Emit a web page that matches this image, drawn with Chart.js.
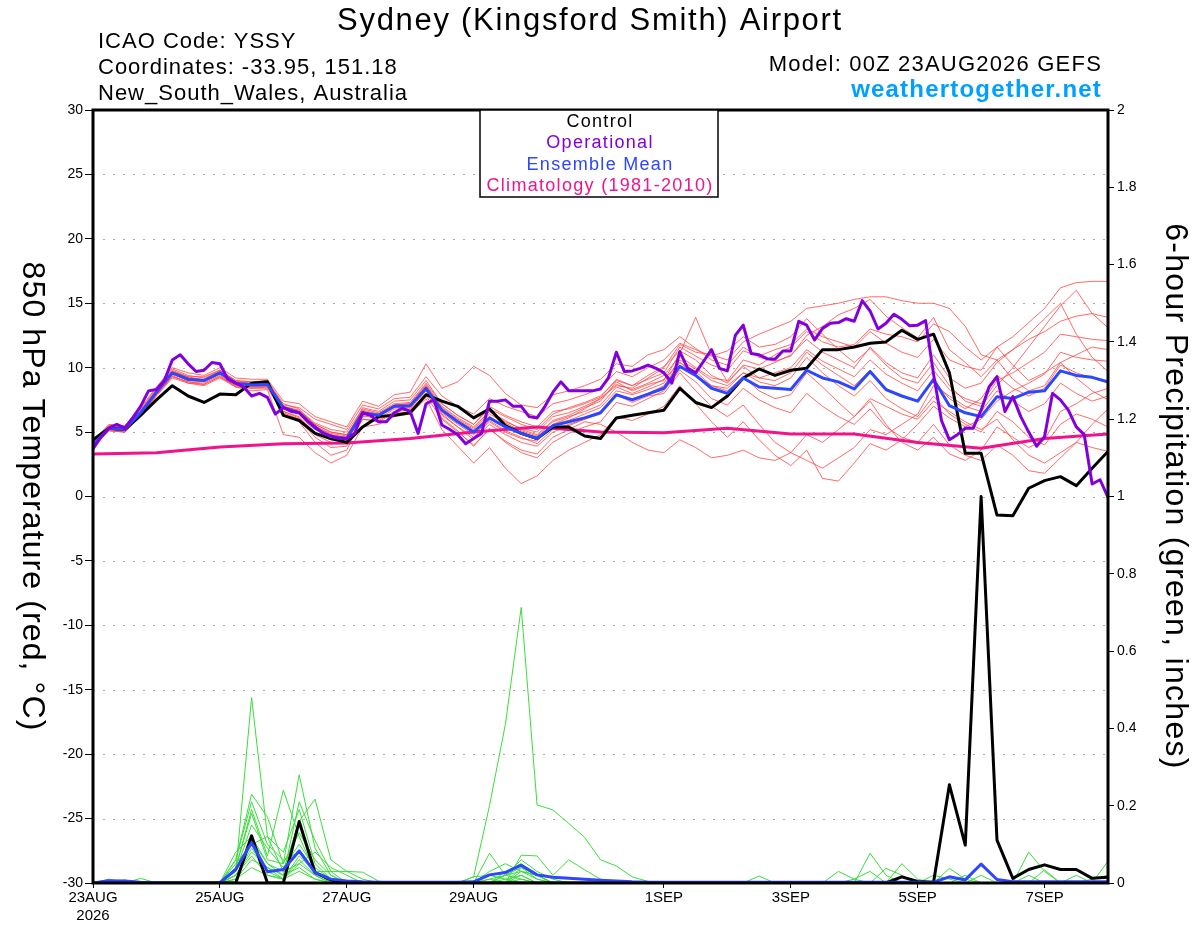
<!DOCTYPE html>
<html lang="en">
<head>
<meta charset="UTF-8">
<title>Sydney (Kingsford Smith) Airport - GEFS</title>
<script src="https://cdn.jsdelivr.net/npm/chart.js"></script>
<style>
  body { margin: 0; background: #fff; }
  #wrap { width: 1200px; height: 927px; }
</style>
</head>
<body>
<div id="wrap"><canvas id="gefsChart" width="1200" height="927"></canvas></div>
<script>
// forecast hours after 00Z 23AUG2026
const hours6 = Array.from({ length: 65 }, (_, i) => i * 6);
const hours3 = Array.from({ length: 129 }, (_, i) => i * 3);
const climHours = [0, 24, 48, 72, 96, 120, 144, 168, 192, 216, 240, 264, 288, 312, 336, 360, 384];

const tickHours = [0, 48, 96, 144, 216, 264, 312, 360];
const tickLabels = [['23AUG', '2026'], '25AUG', '27AUG', '29AUG', '1SEP', '3SEP', '5SEP', '7SEP'];

// 850 hPa temperature, deg C (6-hourly, control and ensemble mean)
const controlTemp = [
  4.4, 5.3, 5.2, 6.3,   7.5, 8.6, 7.8, 7.3,   7.95, 7.9, 8.8, 8.9,   6.3, 5.9, 4.9, 4.5,
  4.2, 5.4, 6.2, 6.3,   6.5, 7.9, 7.4, 7.0,   6.1, 6.8, 5.5, 4.9,    4.5, 5.4, 5.4, 4.7,
  4.5, 6.1, 6.3, 6.5,   6.7, 8.4, 7.3, 6.9,   7.8, 9.2, 9.9, 9.4,    9.8, 9.95, 11.4, 11.4,
  11.6, 11.9, 12.0, 12.9, 12.2, 12.6, 9.6, 3.35, 3.35, -1.44, -1.5, 0.64, 1.23, 1.54, 0.84, 2.2,
  3.5
];
const meanTemp = [
  4.0, 5.3, 5.2, 6.5,   8.1, 9.6, 9.1, 9.0,   9.6, 8.8, 8.65, 8.7,   6.9, 6.5, 5.3, 4.65,
  4.5, 6.5, 6.3, 7.0,   7.05, 8.4, 6.7, 5.8,  5.0, 6.1, 5.4, 4.9,    4.5, 5.5, 5.8, 6.1,
  6.5, 7.9, 7.5, 7.95,  8.4, 10.1, 9.4, 8.4,  8.0, 9.2, 8.5, 8.4,    8.3, 9.8, 9.2, 8.9,
  8.35, 9.7, 8.3, 7.8,  7.4, 9.1, 7.05, 6.5,  6.2, 7.75, 7.6, 8.1,   8.2, 9.75, 9.4, 9.25,
  8.9
];
// operational run, 3-hourly
const operTemp = [
  3.7, 4.6, 5.3, 5.6, 5.3, 6.1, 7.0, 8.2,
  8.3, 9.0, 10.6, 11.0, 10.3, 9.7, 9.8, 10.4,
  10.3, 9.1, 8.8, 8.5, 7.8, 8.0, 7.7, 6.4,
  6.9, 6.6, 6.5, 5.9, 5.4, 4.9, 4.7, 4.5,
  4.5, 4.9, 6.5, 6.3, 5.8, 5.8, 6.5, 6.85,
  6.6, 4.9, 7.2, 7.5, 5.55, 5.2, 4.8, 4.1,
  4.5, 4.9, 7.4, 7.4, 7.5, 7.0, 7.0, 6.2,
  6.1, 7.0, 8.1, 8.9, 8.2, 8.2, 8.2, 8.2,
  8.35, 9.2, 11.2, 9.7, 9.75, 9.95, 10.2, 9.95,
  9.6, 8.8, 11.25, 9.95, 9.6, 10.5, 11.4, 9.95,
  9.75, 12.5, 13.3, 11.1, 11.0, 10.7, 10.65, 11.3,
  11.3, 13.6, 13.3, 12.15, 13.05, 13.45, 13.5, 13.8,
  13.6, 15.2, 14.4, 13.0, 13.45, 14.15, 13.75, 13.25,
  13.3, 13.65, 9.5, 5.9, 4.4, 4.8, 5.3, 5.3,
  6.7, 8.5, 9.3, 6.6, 7.75, 6.2, 5.0, 3.9,
  4.65, 8.0, 7.5, 6.7, 5.4, 4.8, 0.97, 1.3,
  -0.06
];
const climTemp = [3.3, 3.4, 3.85, 4.1, 4.15, 4.5, 5.0, 5.4, 5.0, 4.95, 5.3, 4.85, 4.85, 4.2, 3.75, 4.5, 4.85];

// ensemble members, 6-hourly
const memberT1 = [
  4.1, 5.5, 5.4, 6.8,  8.4, 9.9, 9.4, 9.2,  9.8, 9.0, 8.9, 9.0,  7.2, 6.8, 5.5, 4.8,
  4.6, 6.9, 6.6, 7.4,  7.5, 9.0, 7.2, 6.3,  5.6, 6.8, 6.2, 5.6,  5.2, 6.4, 6.9, 7.3,
  7.8, 9.0, 8.6, 9.1,  9.6, 11.6, 10.9, 10.2,  9.8, 11.3, 10.9, 11.4,  11.8, 13.0, 12.4, 12.0,
  11.6, 12.8, 11.9, 11.2,  10.8, 12.2, 10.6, 10.1,  9.8, 11.6, 12.4, 13.5,  14.6, 16.2, 16.6, 16.7,
  16.7
];
const memberT2 = [
  3.9, 5.2, 5.0, 6.3,  7.9, 9.4, 8.8, 8.7,  9.3, 8.6, 8.4, 8.5,  6.6, 6.1, 4.8, 4.2,
  4.1, 6.0, 5.9, 6.6,  6.7, 8.0, 6.3, 5.4,  4.6, 5.8, 5.0, 4.5,  4.3, 5.6, 6.1, 6.8,
  7.6, 8.6, 8.4, 9.2,  10.0, 11.8, 11.2, 11.0,  10.6, 12.0, 12.6, 13.1,  13.6, 14.6, 14.8, 15.0,
  15.3, 15.5, 15.5, 15.2,  15.0, 15.0, 14.6, 13.2,  11.0, 10.6, 11.4, 12.2,  12.8, 13.6, 14.0, 14.2,
  13.9
];
const memberT3 = [
  4.2, 5.4, 5.3, 6.6,  8.2, 9.7, 9.3, 9.0,  9.5, 8.7, 8.5, 8.6,  6.4, 5.8, 4.2, 3.2,
  3.6, 6.2, 6.4, 7.1,  7.2, 8.3, 6.1, 5.1,  3.9, 5.3, 4.2, 3.4,  3.0, 4.2, 4.9, 5.4,
  5.8, 7.3, 7.0, 7.6,  8.2, 9.8, 8.9, 7.6,  7.1, 8.4, 7.5, 6.9,  6.5, 8.0, 7.0, 6.2,
  5.6, 6.8, 5.4, 4.6,  4.2, 5.6, 4.0, 3.2,  2.8, 4.0, 3.2, 2.0,  1.8, 3.0, 4.2, 5.6,
  6.8
];
const memberT4 = [
  3.8, 5.1, 5.0, 6.2,  7.8, 9.2, 8.8, 8.6,  9.2, 8.5, 8.2, 8.3,  4.8, 4.6, 3.4, 2.6,
  3.2, 5.4, 5.6, 6.2,  6.4, 7.6, 5.2, 3.9,  2.6, 3.8, 2.2, 1.0,  1.6, 2.8, 3.6, 4.2,
  4.8, 6.2, 5.9, 6.4,  7.0, 8.6, 7.2, 5.8,  4.6, 5.8, 4.4, 3.2,  2.4, 3.6, 1.4, 1.2,
  2.6, 4.1, 3.6, 4.4,  5.6, 7.0, 6.1, 5.4,  6.0, 7.4, 8.2, 8.8,  9.5, 11.2, 10.8, 10.6,
  10.5
];
const memberT5 = [
  4.0, 5.4, 5.2, 6.5,  8.0, 9.5, 9.0, 9.1,  9.7, 8.9, 8.8, 8.8,  7.0, 6.6, 5.6, 5.0,
  4.8, 6.6, 6.2, 7.0,  7.1, 8.6, 6.9, 6.0,  5.3, 6.6, 5.9, 5.2,  4.8, 5.9, 6.3, 6.9,
  7.4, 8.9, 8.2, 8.7,  9.0, 11.1, 13.9, 11.0,  8.9, 10.1, 9.2, 9.6,  10.0, 11.4, 10.5, 9.9,
  9.3, 10.6, 9.5, 8.8,  8.2, 9.8, 8.3, 7.6,  7.2, 9.0, 9.6, 10.4,  11.2, 12.6, 12.4, 12.2,
  12.1
];
const memberT6 = [
  4.3, 5.6, 5.5, 6.9,  8.5, 10.0, 9.6, 9.4,  10.0, 9.2, 9.1, 9.1,  7.4, 7.2, 6.2, 5.8,
  5.4, 7.4, 7.0, 7.9,  8.1, 10.3, 8.4, 8.9,  10.1, 9.4, 8.0, 7.1,  6.9, 7.9, 8.2, 8.6,
  9.1, 10.3, 10.1, 11.0,  11.4, 12.4, 11.5, 10.6,  10.2, 11.6, 10.8, 10.5,  10.9, 12.5, 13.2, 14.1,
  14.6, 15.3, 14.0, 13.1,  12.3, 13.9, 11.4, 10.4,  9.3, 10.6, 9.1, 8.2,  8.6, 10.4, 11.0, 11.6,
  11.4
];
const memberT7 = [
  4.0, 5.2, 5.1, 6.4,  8.0, 9.5, 9.0, 8.9,  9.5, 8.7, 8.6, 8.6,  6.8, 6.4, 5.0, 4.4,
  4.3, 6.3, 6.0, 6.8,  6.8, 8.2, 6.5, 5.6,  4.8, 5.9, 5.1, 4.6,  4.1, 5.2, 5.6, 6.0,
  6.4, 7.9, 7.3, 7.8,  8.0, 9.6, 8.2, 7.0,  6.2, 7.1, 5.6, 4.2,  3.4, 2.8, 2.2, 3.0,
  3.8, 5.2, 4.8, 5.6,  6.4, 8.6, 7.8, 7.0,  6.6, 8.2, 7.4, 6.6,  7.2, 8.8, 8.0, 7.4,
  7.8
];
const memberT8 = [
  4.1, 5.3, 5.3, 6.6,  8.2, 9.6, 9.2, 9.0,  9.6, 8.8, 8.7, 8.7,  7.0, 6.7, 5.7, 5.2,
  5.0, 6.8, 6.5, 7.2,  7.3, 8.8, 7.2, 6.3,  5.6, 7.0, 6.3, 5.8,  5.4, 6.6, 6.8, 7.2,
  7.7, 9.1, 8.6, 9.4,  10.1, 11.3, 10.6, 9.4,  8.8, 10.2, 9.9, 10.4,  11.0, 12.2, 11.2, 10.6,
  10.0, 11.6, 10.4, 9.6,  9.2, 11.0, 9.2, 8.4,  8.8, 10.4, 11.4, 12.6,  13.8, 15.0, 12.6, 10.8,
  9.7
];
const memberT9 = [
  3.9, 5.2, 5.1, 6.3,  7.9, 9.3, 8.9, 8.8,  9.4, 8.6, 8.5, 8.5,  6.6, 6.2, 4.9, 4.4,
  4.4, 6.4, 6.2, 6.9,  6.9, 8.2, 6.4, 5.4,  4.4, 5.6, 4.8, 4.2,  3.9, 5.0, 5.5, 6.0,
  6.6, 7.9, 7.6, 8.0,  8.6, 10.4, 9.7, 8.6,  8.2, 9.3, 8.2, 7.6,  7.9, 9.6, 8.5, 7.3,
  6.2, 7.4, 5.6, 4.2,  3.6, 4.6, 3.3, 2.8,  3.6, 5.4, 4.6, 3.8,  4.4, 6.6, 7.2, 8.0,
  8.4
];
const memberT10 = [
  4.2, 5.5, 5.4, 6.7,  8.3, 9.8, 9.3, 9.3,  9.8, 9.0, 8.9, 8.9,  7.1, 6.9, 6.0, 5.6,
  5.2, 7.1, 6.8, 7.6,  7.7, 9.3, 7.8, 7.0,  6.4, 7.6, 7.0, 6.6,  6.2, 7.2, 7.5, 7.9,
  8.4, 9.7, 9.3, 10.0,  10.6, 11.9, 11.4, 10.9,  11.3, 12.4, 11.6, 11.8,  12.4, 13.8, 12.6, 11.4,
  10.4, 11.5, 10.2, 9.2,  8.8, 10.4, 8.6, 7.4,  7.0, 8.6, 10.0, 11.6,  13.2, 14.8, 16.0, 14.2,
  13.1
];
const memberT11 = [
  4.0, 5.3, 5.2, 6.5,  8.1, 9.6, 9.1, 9.0,  9.6, 8.8, 8.6, 8.7,  6.9, 6.5, 5.3, 4.7,
  4.6, 6.5, 6.3, 7.0,  7.0, 8.5, 6.7, 5.8,  5.0, 6.2, 5.4, 4.9,  4.4, 5.6, 5.9, 6.4,
  6.9, 8.2, 7.9, 8.3,  8.8, 10.6, 9.9, 9.0,  8.6, 9.6, 8.9, 8.6,  9.2, 10.8, 9.6, 8.6,
  7.8, 9.0, 7.6, 6.8,  6.2, 7.8, 6.4, 5.6,  5.0, 6.6, 5.8, 4.6,  4.0, 5.6, 6.4, 6.0,
  5.4
];
const memberT12 = [
  4.1, 5.4, 5.3, 6.6,  8.1, 9.7, 9.2, 9.1,  9.7, 8.9, 8.8, 8.8,  7.0, 6.6, 5.4, 4.9,
  4.7, 6.7, 6.4, 7.1,  7.2, 8.7, 7.0, 6.1,  5.4, 6.6, 5.8, 5.3,  5.0, 6.2, 6.5, 7.0,
  7.6, 8.7, 8.3, 8.8,  9.4, 10.9, 10.0, 9.2,  9.0, 10.6, 10.2, 11.0,  11.6, 12.8, 12.0, 11.6,
  11.8, 13.0, 12.6, 12.4,  12.0, 13.4, 12.8, 11.6,  10.6, 11.6, 10.2, 9.0,  9.6, 10.4, 9.2, 8.2,
  7.5
];
const memberT13 = [
  3.9, 5.1, 5.0, 6.3,  7.9, 9.3, 8.9, 8.7,  9.3, 8.5, 8.4, 8.4,  6.5, 6.0, 4.6, 3.8,
  3.9, 6.0, 5.8, 6.5,  6.5, 7.8, 6.0, 5.0,  4.0, 5.2, 4.3, 3.6,  3.3, 4.6, 5.2, 5.8,
  5.6, 5.0, 4.2, 3.6,  3.4, 4.4, 3.8, 3.0,  3.2, 3.6, 3.0, 2.8,  3.4, 4.8, 4.2, 5.2,
  6.2, 7.6, 7.0, 6.4,  6.0, 7.4, 6.6, 5.8,  5.2, 6.0, 4.4, 3.2,  2.6, 3.4, 4.2, 3.8,
  3.5
];
const memberT14 = [
  4.0, 5.3, 5.2, 6.5,  8.0, 9.5, 9.1, 9.0,  9.6, 8.8, 8.7, 8.7,  6.9, 6.6, 5.6, 5.0,
  4.8, 6.6, 6.3, 7.1,  7.1, 8.5, 6.8, 5.9,  5.2, 6.4, 5.7, 5.1,  4.7, 5.8, 6.2, 6.6,
  7.1, 8.5, 8.0, 8.5,  9.1, 10.4, 9.4, 8.6,  8.4, 9.6, 9.2, 9.0,  9.6, 11.2, 10.2, 9.4,
  8.6, 9.8, 8.4, 7.8,  7.4, 9.0, 7.6, 6.8,  7.6, 9.4, 8.4, 7.8,  8.4, 10.2, 9.6, 9.2,
  8.8
];
const memberTemps = [memberT1, memberT2, memberT3, memberT4, memberT5, memberT6, memberT7,
  memberT8, memberT9, memberT10, memberT11, memberT12, memberT13, memberT14];

// 6-hour precipitation, inches
const controlPrecip = [
  0, 0, 0, 0,  0, 0, 0, 0,  0, 0, 0.122, 0,  0, 0.159, 0.027, 0.008,
  0, 0, 0, 0,  0, 0, 0, 0,  0, 0, 0, 0,  0, 0, 0, 0,
  0, 0, 0, 0,  0, 0, 0, 0,  0, 0, 0, 0,  0, 0, 0, 0,
  0, 0, 0, 0.016,  0.004, 0.002, 0.254, 0.098,  1.0, 0.111, 0.012, 0.035,  0.047, 0.035, 0.035, 0.012,
  0.015
];
const meanPrecip = [
  0, 0.006, 0.005, 0.002,  0.001, 0.001, 0.001, 0.001,  0.001, 0.035, 0.104, 0.029,  0.035, 0.083, 0.027, 0.01,
  0.005, 0.003, 0.002, 0.002,  0.002, 0.002, 0.002, 0.002,  0.003, 0.021, 0.027, 0.046,  0.021, 0.015, 0.012, 0.0095,
  0.007, 0.005, 0.003, 0.002,  0.002, 0.002, 0.002, 0.002,  0.002, 0.002, 0.002, 0.002,  0.002, 0.002, 0.002, 0.002,
  0.002, 0.002, 0.002, 0.002,  0.002, 0.002, 0.016, 0.008,  0.049, 0.009, 0.003, 0.003,  0.003, 0.003, 0.003, 0.003,
  0.003
];
// members: [hour, inches], every other hour is dry
const memberP1 = [[6, 0.01], [54, 0.03], [60, 0.48], [66, 0.12], [72, 0.03], [78, 0.05], [84, 0.02], [156, 0.02], [162, 0.03], [168, 0.01], [306, 0.05], [312, 0.01]];
const memberP2 = [[54, 0.06], [60, 0.23], [66, 0.17], [72, 0.05], [78, 0.28], [84, 0.09], [90, 0.02], [150, 0.01], [162, 0.04], [168, 0.02], [354, 0.08], [360, 0.03]];
const memberP3 = [[54, 0.02], [60, 0.08], [66, 0.04], [72, 0.01], [78, 0.06], [84, 0.02], [144, 0.016], [150, 0.2], [156, 0.41], [162, 0.713], [168, 0.202], [174, 0.189], [180, 0.154], [186, 0.118], [192, 0.06], [198, 0.044], [204, 0.016], [210, 0.004]];
const memberP4 = [[54, 0.04], [60, 0.19], [66, 0.07], [72, 0.24], [78, 0.12], [84, 0.03], [150, 0.077], [156, 0.02], [162, 0.01], [294, 0.077], [300, 0.02]];
const memberP5 = [[54, 0.08], [60, 0.12], [66, 0.05], [72, 0.03], [78, 0.16], [84, 0.217], [90, 0.06], [96, 0.03], [102, 0.028], [108, 0.005], [162, 0.072], [168, 0.07], [174, 0.02], [180, 0.06], [186, 0.034], [192, 0.01]];
const memberP6 = [[54, 0.03], [60, 0.15], [66, 0.09], [72, 0.04], [78, 0.1], [84, 0.04], [90, 0.01], [156, 0.03], [162, 0.05], [168, 0.02], [324, 0.038], [330, 0.01]];
const memberP7 = [[12, 0.008], [54, 0.02], [60, 0.09], [66, 0.03], [72, 0.01], [78, 0.07], [84, 0.03], [90, 0.03], [96, 0.03], [102, 0.01], [150, 0.01], [156, 0.02], [162, 0.04], [168, 0.01], [282, 0.03], [288, 0.01]];
const memberP8 = [[54, 0.05], [60, 0.1], [66, 0.12], [72, 0.08], [78, 0.19], [84, 0.05], [90, 0.01], [144, 0.016], [150, 0.02], [156, 0.01], [252, 0.018], [384, 0.057]];
const memberP9 = [[54, 0.01], [60, 0.06], [66, 0.04], [72, 0.02], [78, 0.04], [84, 0.01], [162, 0.03], [168, 0.02], [300, 0.038], [306, 0.02], [354, 0.02]];
const memberP10 = [[18, 0.012], [54, 0.04], [60, 0.18], [66, 0.06], [72, 0.05], [78, 0.13], [84, 0.06], [90, 0.02], [156, 0.01], [162, 0.02], [336, 0.02], [360, 0.034]];
const memberP11 = [[54, 0.02], [60, 0.07], [66, 0.02], [72, 0.01], [78, 0.05], [84, 0.08], [90, 0.04], [96, 0.02], [162, 0.02], [288, 0.01], [294, 0.03]];
const memberP12 = [[54, 0.06], [60, 0.21], [66, 0.1], [72, 0.06], [78, 0.08], [84, 0.03], [150, 0.03], [156, 0.05], [162, 0.03], [168, 0.02], [330, 0.02]];
const memberP13 = [[54, 0.03], [60, 0.11], [66, 0.05], [72, 0.02], [78, 0.21], [84, 0.11], [90, 0.03], [162, 0.01], [318, 0.02], [324, 0.01], [372, 0.02]];
const memberP14 = [[54, 0.01], [60, 0.04], [66, 0.02], [72, 0.01], [78, 0.03], [84, 0.01], [156, 0.02], [162, 0.06], [168, 0.03], [174, 0.01], [378, 0.01], [384, 0.02]];
const memberPrecips = [memberP1, memberP2, memberP3, memberP4, memberP5, memberP6, memberP7,
  memberP8, memberP9, memberP10, memberP11, memberP12, memberP13, memberP14];

const FONT = "'Liberation Sans', Arial, Helvetica, sans-serif";
const OPER_COLOR = '#8200dc';
const MEAN_COLOR = '#2d46ff';
const CLIM_COLOR = '#f0148c';

function toPoints(xs, ys) {
  return xs.map((x, i) => ({ x: x, y: ys[i] }));
}
function sparseToPoints(pairs) {
  return hours6.map(h => {
    const hit = pairs.find(p => p[0] === h);
    return { x: h, y: hit ? hit[1] : 0 };
  });
}
function line(data, color, width, axis, order) {
  return {
    data: data,
    borderColor: color,
    borderWidth: width,
    yAxisID: axis,
    order: order,
    pointRadius: 0,
    tension: 0,
    fill: false,
    borderJoinStyle: 'round'
  };
}

const datasets = [];
memberPrecips.forEach(p => datasets.push(line(sparseToPoints(p), 'rgb(60,220,60)', 1, 'y2', 7)));
memberTemps.forEach(t => datasets.push(line(toPoints(hours6, t), 'rgba(255,70,70,0.8)', 1, 'y', 6)));
datasets.push(line(toPoints(climHours, climTemp), CLIM_COLOR, 3, 'y', 5));
datasets.push(line(toPoints(hours6, controlPrecip), '#000', 3, 'y2', 4));
datasets.push(line(toPoints(hours6, controlTemp), '#000', 3, 'y', 3));
datasets.push(line(toPoints(hours6, meanPrecip), MEAN_COLOR, 3, 'y2', 2));
datasets.push(line(toPoints(hours6, meanTemp), MEAN_COLOR, 3, 'y', 2));
datasets.push(line(toPoints(hours3, operTemp), OPER_COLOR, 3, 'y', 1));

function text(ctx, str, x, y, size, color, align, bold, spacing) {
  ctx.font = (bold ? 'bold ' : '') + size + 'px ' + FONT;
  ctx.fillStyle = color;
  ctx.textAlign = align;
  ctx.letterSpacing = spacing + 'px';
  ctx.fillText(str, x, y);
  ctx.letterSpacing = '0px';
}

const decorations = {
  id: 'decorations',
  beforeDatasetsDraw(chart) {
    const { ctx, chartArea: a, scales } = chart;
    ctx.save();
    ctx.strokeStyle = '#aaaaaa';
    ctx.lineWidth = 1;
    ctx.setLineDash([2, 8]);
    for (let v = -25; v <= 25; v += 5) {
      const y = Math.round(scales.y.getPixelForValue(v)) + 0.5;
      ctx.beginPath();
      ctx.moveTo(a.left, y);
      ctx.lineTo(a.right, y);
      ctx.stroke();
    }
    ctx.restore();
  },
  afterDatasetsDraw(chart) {
    const { ctx, chartArea: a } = chart;
    ctx.save();
    ctx.strokeStyle = '#000';
    ctx.lineWidth = 3;
    ctx.strokeRect(a.left, a.top, a.right - a.left, a.bottom - a.top);
    ctx.restore();
  },
  afterDraw(chart) {
    const { ctx, chartArea: a } = chart;
    ctx.save();
    ctx.textBaseline = 'alphabetic';
    text(ctx, 'Sydney (Kingsford Smith) Airport', 590, 30, 31, '#000', 'center', false, 1.7);
    text(ctx, 'ICAO Code: YSSY', 98, 48, 22, '#000', 'left', false, 1);
    text(ctx, 'Coordinates: -33.95, 151.18', 98, 74, 22, '#000', 'left', false, 1);
    text(ctx, 'New_South_Wales, Australia', 98, 100, 22, '#000', 'left', false, 1);
    text(ctx, 'Model: 00Z 23AUG2026 GEFS', 1102, 71, 22, '#000', 'right', false, 1.2);
    text(ctx, 'weathertogether.net', 1102, 97, 24, '#00a0ff', 'right', true, 1.2);

    // legend box
    ctx.fillStyle = '#fff';
    ctx.fillRect(480, a.top, 238, 87);
    ctx.strokeStyle = '#000';
    ctx.lineWidth = 1.5;
    ctx.strokeRect(480, a.top, 238, 87);
    text(ctx, 'Control', 600, 127, 18, '#000', 'center', false, 1.3);
    text(ctx, 'Operational', 600, 148, 18, OPER_COLOR, 'center', false, 1.3);
    text(ctx, 'Ensemble Mean', 600, 170, 18, MEAN_COLOR, 'center', false, 1.3);
    text(ctx, 'Climatology (1981-2010)', 600, 191, 18, CLIM_COLOR, 'center', false, 1.3);

    // axis titles, both read top to bottom
    const midY = (a.top + a.bottom) / 2;
    ctx.textBaseline = 'middle';
    ctx.save();
    ctx.translate(32, midY);
    ctx.rotate(Math.PI / 2);
    text(ctx, '850 hPa Temperature (red, \u00B0C)', 0, 0, 32, '#000', 'center', false, 1.1);
    ctx.restore();
    ctx.save();
    ctx.translate(1175, midY);
    ctx.rotate(Math.PI / 2);
    text(ctx, '6-hour Precipitation (green, inches)', 0, 0, 32, '#000', 'center', false, 1.3);
    ctx.restore();
    ctx.restore();
  }
};

new Chart(document.getElementById('gefsChart'), {
  type: 'line',
  data: { datasets: datasets },
  options: {
    responsive: false,
    animation: false,
    events: [],
    layout: { padding: { top: 110, left: 0, right: 0, bottom: 0 } },
    plugins: { legend: { display: false }, tooltip: { enabled: false } },
    scales: {
      x: {
        type: 'linear',
        min: 0,
        max: 384,
        afterBuildTicks: s => { s.ticks = tickHours.map(v => ({ value: v })); },
        ticks: {
          callback: (v, i) => tickLabels[i],
          font: { family: FONT, size: 15 },
          color: '#000',
          maxRotation: 0,
          autoSkip: false,
          padding: 1
        },
        grid: { display: true, drawOnChartArea: false, drawTicks: true, tickLength: 5, color: '#000' },
        border: { display: false },
        afterFit: s => { s.height = 44; }
      },
      y: {
        position: 'left',
        min: -30,
        max: 30,
        ticks: { stepSize: 5, font: { family: FONT, size: 14 }, color: '#000', padding: 2 },
        grid: { display: true, drawOnChartArea: false, drawTicks: true, tickLength: 8, color: '#000' },
        border: { display: false },
        afterFit: s => { s.width = 93; }
      },
      y2: {
        position: 'right',
        min: 0,
        max: 2,
        ticks: {
          stepSize: 0.2,
          callback: v => String(Number(v.toFixed(1))),
          font: { family: FONT, size: 14 },
          color: '#000',
          padding: 3
        },
        grid: { display: true, drawOnChartArea: false, drawTicks: true, tickLength: 6, color: '#000' },
        border: { display: false },
        afterFit: s => { s.width = 92; }
      }
    }
  },
  plugins: [decorations]
});
</script>
</body>
</html>
